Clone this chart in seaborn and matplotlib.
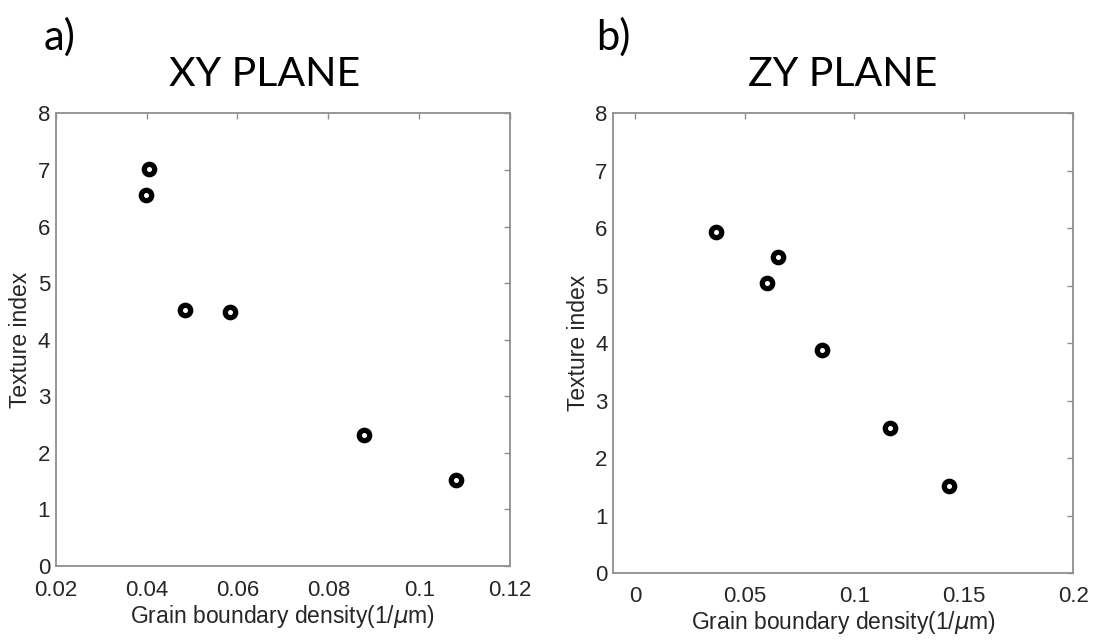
import matplotlib
matplotlib.use("Agg")
import matplotlib.pyplot as plt
import seaborn as sns
import pandas as pd

# Texture index vs. grain boundary density for the two section planes
xy_density = [0.0405, 0.0399, 0.0484, 0.0583, 0.0879, 0.1081]
xy_texture = [7.02, 6.56, 4.52, 4.49, 2.31, 1.52]

zy_density = [0.0368, 0.0603, 0.0652, 0.0853, 0.1162, 0.1432]
zy_texture = [5.94, 5.05, 5.50, 3.89, 2.52, 1.52]

xy_ticks = [0.02, 0.04, 0.06, 0.08, 0.10, 0.12]
xy_ticklabels = ["0.02", "0.04", "0.06", "0.08", "0.1", "0.12"]
zy_ticks = [0.0, 0.05, 0.10, 0.15, 0.20]
zy_ticklabels = ["0", "0.05", "0.1", "0.15", "0.2"]
y_ticks = [0, 1, 2, 3, 4, 5, 6, 7, 8]

sns.set_theme(style="white")
plt.rcParams["font.family"] = ["Liberation Sans", "DejaVu Sans"]

AXIS_GRAY = "#8f8f8f"
TEXT_GRAY = "#262626"

fig = plt.figure(figsize=(10.93, 6.41), dpi=100)
ax1 = fig.add_axes([0.051, 0.117, 0.4157, 0.706])
ax2 = fig.add_axes([0.5611, 0.106, 0.4209, 0.717])

panels = [
    (ax1, xy_density, xy_texture, (0.02, 0.12), xy_ticks, xy_ticklabels, 10),
    (ax2, zy_density, zy_texture, (-0.01, 0.20), zy_ticks, zy_ticklabels, 9),
]

for ax, dens, tex, xlim, ticks, ticklabels, xpad in panels:
    df = pd.DataFrame({"density": dens, "texture": tex})
    sns.scatterplot(data=df, x="density", y="texture", ax=ax, marker="o",
                    s=56, color="white", edgecolor="black", linewidth=3.8,
                    zorder=3)
    ax.set_xlim(*xlim)
    ax.set_ylim(0, 8)
    ax.set_xticks(ticks)
    ax.set_xticklabels(ticklabels)
    ax.set_yticks(y_ticks)
    ax.set_yticklabels([str(v) for v in y_ticks])
    ax.tick_params(axis="both", direction="in", length=4, width=1,
                   color=AXIS_GRAY, labelcolor=TEXT_GRAY, labelsize=16,
                   top=True, right=True)
    ax.tick_params(axis="x", pad=xpad)
    ax.tick_params(axis="y", pad=4)
    for sp in ax.spines.values():
        sp.set_color(AXIS_GRAY)
        sp.set_linewidth(1.3)
    ax.set_xlabel(r"Grain boundary density(1/$\mu$m)", fontsize=16.5,
                  color=TEXT_GRAY, labelpad=1.5)
    ax.set_ylabel("Texture index", fontsize=16.5, color=TEXT_GRAY, labelpad=4)
    ax.grid(False)

title_font = ["Lato", "DejaVu Sans"]
fig.text(0.2425, 0.883, "XY PLANE", ha="center", va="center", fontsize=29.5,
         family=title_font, color="black")
fig.text(0.771, 0.883, "ZY PLANE", ha="center", va="center", fontsize=29.5,
         family=title_font, color="black")
fig.text(0.040, 0.942, "a)", ha="left", va="center", fontsize=30,
         family=title_font, color="black")
fig.text(0.545, 0.942, "b)", ha="left", va="center", fontsize=30,
         family=title_font, color="black")

fig.savefig("out.png", dpi=100, facecolor="white")
